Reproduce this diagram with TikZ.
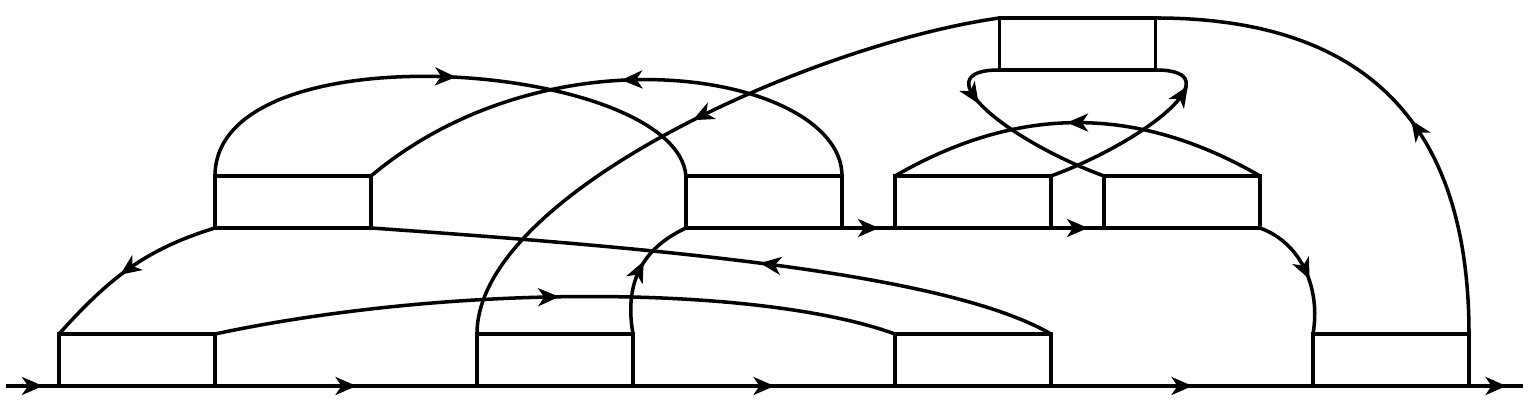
\documentclass[tikz,border=0pt]{standalone}
\usepackage{tikz}
\usetikzlibrary{arrows.meta,positioning,calc,decorations.markings}

\begin{document}
\begin{tikzpicture}[
  line width=1pt,
  box/.style={
    draw, rectangle, minimum width=15.6mm, minimum height=5.2mm,
    inner sep=0pt, outer sep=0pt
  },
  flow/.style={postaction={decorate, decoration={markings,
    mark=at position #1 with {\arrow[xshift=1.05mm]{Stealth[length=2.1mm, width=1.8mm, inset=0.6mm]}}}}},
  flow/.default=0.5
]
  \useasboundingbox (0,0) rectangle (15.32,4.11);

  % Bottom row
  \node[box, anchor=south west] (b1) at (0.59,0.25) {};
  \node[box, right=2.62cm of b1] (b2) {};
  \node[box, right=2.62cm of b2] (b3) {};
  \node[box, right=2.62cm of b3] (b4) {};

  % Middle row
  \node[box, above right=1.06cm and 0cm of b1] (m1) {};
  \node[box, above=1.06cm of b3] (m3) {};
  \node[box, left=0.53cm of m3] (m2) {};
  \node[box, right=0.53cm of m3] (m4) {};

  % Top box over the gap
  \coordinate (gap) at ($(m3.north east)!0.5!(m4.north west)$);
  \node[box, above=1.06cm of gap] (t) {};

  % Base line
  \coordinate (entry) at (0.06,0.25);
  \coordinate (exit) at (15.23,0.25);
  \foreach \a/\b in {entry/b1.south west, b1.south east/b2.south west,
                     b2.south east/b3.south west, b3.south east/b4.south west,
                     b4.south east/exit}
    \draw[flow] (\a) -- (\b);

  % Middle line
  \draw[flow=0.5] (b2.north east) .. controls +(100:0.6) and +(205:0.4) .. (m2.south west);
  \draw[flow] (m2.south east) -- (m3.south west);
  \draw[flow] (m3.south east) -- (m4.south west);
  \draw[flow=0.49] (m4.south east) .. controls +(-20:0.45) and +(80:0.45) .. (b4.north west);

  % Long returns
  \draw[flow=0.5] (m1.south west) to[out=197, in=48] (b1.north west);
  \draw[flow=0.42] (b3.north east) .. controls +(150:1.2) and +(-4:3) .. (m1.south east);
  \draw[flow=0.49] (b1.north east) .. controls +(12:2.5) and +(160:1.4) .. (b3.north west);
  \draw[flow=0.49] (t.north west) .. controls +(188:1.9) and +(90:1.4) .. (b2.north west);
  \draw[flow=0.42] (b4.north east) .. controls +(90:2) and +(0:2.2) .. (t.north east);

  % Arches over the middle row
  \draw[flow=0.5] (m1.north west) .. controls +(90:1.5) and +(95:1.15) .. (m2.north west);
  \draw[flow=0.47] (m2.north east) .. controls +(90:1.0) and +(40:2.4) .. (m1.north east);
  \draw[flow=0.5] (m4.north east) to[out=150, in=30] (m3.north west);

  % Crossing loops under the top box
  \draw[flow=0.24] (t.south west) .. controls +(180:0.8) and +(160:1.0) .. (m4.north west);
  \draw[flow=0.76] (m3.north east) .. controls +(20:1.0) and +(0:0.8) .. (t.south east);
\end{tikzpicture}
\end{document}
